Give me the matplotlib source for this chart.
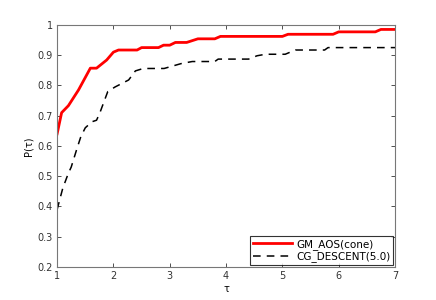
import numpy as np
import matplotlib
matplotlib.use("Agg")
import matplotlib.pyplot as plt

# performance profile data
tau_gm = [1.0, 1.08, 1.2, 1.38, 1.59, 1.70, 1.88, 2.0, 2.09, 2.42, 2.5, 2.8, 2.89, 3.0,
          3.1, 3.3, 3.5, 3.8, 3.9, 5.0, 5.1, 5.9, 6.0, 6.65, 6.75, 7.0]
p_gm = [0.64, 0.71, 0.733, 0.785, 0.857, 0.857, 0.884, 0.91, 0.917, 0.917, 0.925, 0.925,
        0.933, 0.933, 0.942, 0.942, 0.954, 0.954, 0.962, 0.962, 0.969, 0.969, 0.977,
        0.977, 0.985, 0.985]

tau_cg = [1.0, 1.1, 1.2, 1.25, 1.35, 1.42, 1.5, 1.62, 1.7, 1.76, 1.9, 2.03, 2.27, 2.39,
          2.53, 2.9, 3.2, 3.4, 3.8, 3.86, 4.4, 4.55, 4.7, 5.05, 5.23, 5.75, 5.81, 7.0]
p_cg = [0.39, 0.46, 0.51, 0.53, 0.59, 0.63, 0.66, 0.68, 0.685, 0.71, 0.78, 0.795, 0.818,
        0.848, 0.856, 0.856, 0.872, 0.879, 0.879, 0.887, 0.887, 0.898, 0.903, 0.903,
        0.917, 0.917, 0.925, 0.925]

xticks = [1, 2, 3, 4, 5, 6, 7]
yticks = [0.2, 0.3, 0.4, 0.5, 0.6, 0.7, 0.8, 0.9, 1.0]
ylabels = ["0.2", "0.3", "0.4", "0.5", "0.6", "0.7", "0.8", "0.9", "1"]

plt.rcParams["font.family"] = "DejaVu Sans"
fig = plt.figure(figsize=(4.36, 3.0), dpi=100)
ax = fig.add_axes([0.131, 0.11, 0.775, 0.807])

ax.plot(tau_gm, p_gm, color="red", lw=2.0, label="GM_AOS(cone)")
ax.plot(tau_cg, p_cg, color="black", lw=1.1, ls=(0, (5, 4)), label="CG_DESCENT(5.0)")

ax.set_xlim(1, 7)
ax.set_ylim(0.2, 1.0)
ax.set_xticks(xticks)
ax.set_yticks(yticks)
ax.set_yticklabels(ylabels)
ax.tick_params(direction="in", length=3, width=0.6, labelsize=7, top=True, right=True,
               colors="#333333", pad=3)
for s in ax.spines.values():
    s.set_color("#777777")
    s.set_linewidth(0.8)

ax.set_xlabel("τ", fontsize=7, labelpad=2)
ax.set_ylabel("P(τ)", fontsize=7, labelpad=3)

leg = ax.legend(loc="lower right", fontsize=7.5, frameon=True, fancybox=False,
                borderaxespad=0.15, handlelength=3.7, borderpad=0.3, labelspacing=0.15,
                handletextpad=0.4)
leg.get_frame().set_edgecolor("black")
leg.get_frame().set_linewidth(0.8)

fig.savefig("out.png", dpi=100)
